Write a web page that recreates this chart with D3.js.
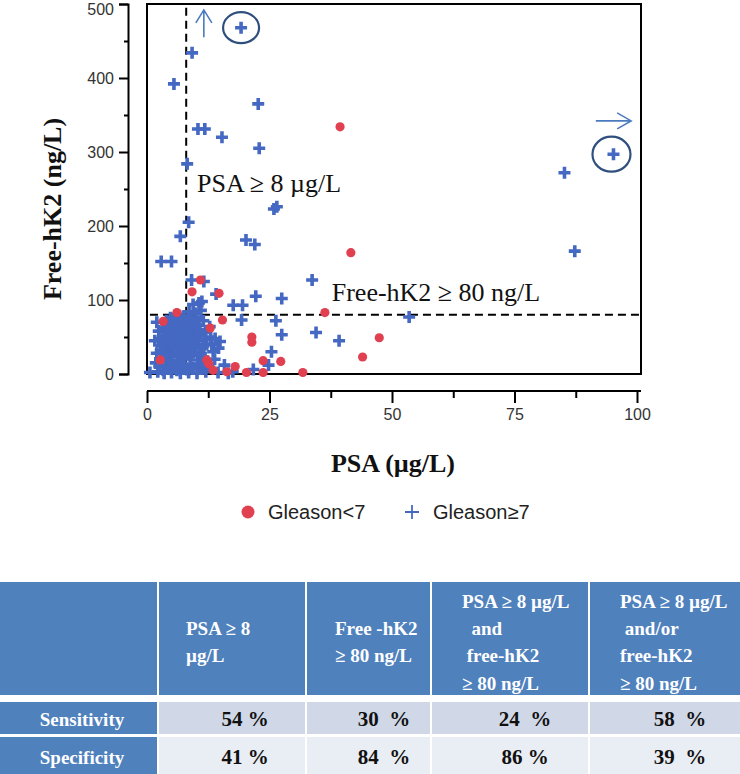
<!DOCTYPE html>
<html><head><meta charset="utf-8">
<script src="https://cdn.jsdelivr.net/npm/d3@7"></script>
<style>body{margin:0;background:#fff} svg{display:block}</style>
</head><body><svg id="c" width="740" height="774"></svg>
<script>
// ---------- data ----------
const xTicks = [0, 25, 50, 75, 100];
const xMinor = [12.5, 37.5, 62.5, 87.5];
const yTicks = [0, 100, 200, 300, 400, 500];
const yMinor = [50, 150, 250, 350, 450];
const psaCut = 8, hk2Cut = 80;

// [PSA, free-hK2]  Gleason < 7
const lowGleason = [
  [39.4,334],[41.6,164],[10.9,127],[9.2,111],[14.7,109],[36.3,83],[6.1,83],[15.4,73],
  [21.4,50],[21.4,43],[47.4,49],[44,23],[23.7,18],[27.3,17],[18,10],[31.8,2],[20.3,2],
  [23.7,2],[12.9,62],[12.2,19],[12.6,14],[2.7,19],[3.3,71],[13.5,5],[16.3,3]
];
// [PSA, free-hK2]  Gleason >= 7
const highGleason = [
  [19.2,468],[9.2,434],[5.5,392],[22.7,365],[10.4,331],[11.8,331],[15.3,320],[22.9,305],
  [8.2,284],[95.2,297],[85.2,272],[87.3,166],[53.5,77],[25.9,223],[26.5,226],[8.5,205],
  [6.8,186],[20.2,181],[22,175],[2.9,152],[5.0,152],[9.1,127],[11.6,125],[33.7,127],
  [14.1,108],[22.2,105],[27.5,102],[17.6,93],[19.5,93],[10.6,96],[9.4,94],[11.2,98],
  [19.3,73],[26.3,72],[34.5,56],[39.2,45],[27.5,53],[25.4,30],[24.8,12],[21.7,6],
  [0.6,2],[2.2,3],[3.5,1],[5.0,2],[6.8,1],[8.5,2],[10.2,1],[12.0,3],[14.5,2],[16.6,1],
  [2.5,10],[3.8,12],[4.6,8],[5.9,11],[7.2,9],[8.8,13],[10.5,10],[11.8,7],
  [3.0,22],[4.2,20],[5.3,24],[6.5,18],[7.7,21],[9.0,25],[10.3,19],[11.5,23],
  [2.8,32],[4.0,30],[5.2,34],[6.4,29],[7.6,33],[8.7,31],[9.9,35],[11.0,28],[13.5,30],
  [3.2,42],[4.4,40],[5.6,44],[6.8,38],[8.0,43],[9.2,41],[10.4,45],[12.2,40],[14.9,44],
  [3.6,52],[4.8,50],[6.0,54],[7.2,48],[8.4,53],[9.6,50],[11.0,52],[13.0,50],
  [3.4,62],[4.6,60],[5.8,64],[7.0,58],[8.2,63],[9.4,60],[10.6,66],[12.0,56],
  [4.0,72],[5.4,70],[6.6,74],[7.8,69],[9.0,73],[10.2,76],[11.5,72],
  [6.0,80],[7.4,78],[8.6,84],[9.8,82],[11.0,86],[14.6,35],[13.8,20],[15.8,12],[17.5,3],
  [1.8,15],[2.0,28],[1.6,45],[2.4,58],[2.0,70],[3.3,5],[4.9,15],[6.1,5],[7.0,14],[8.1,6],
  [9.5,8],[3.9,26],[5.0,28],[6.1,24],[7.1,27],[8.3,26],[9.5,29],[10.8,34],[3.8,36],[5.0,39],
  [6.2,35],[7.4,37],[8.6,37],[9.8,40],[11.5,38],[4.0,46],[5.2,47],[6.4,45],[7.6,45],[8.8,47],
  [10.0,48],[11.8,47],[4.2,56],[5.4,57],[6.6,57],[7.8,56],[9.0,56],[10.2,58],[4.0,66],[5.2,67],
  [6.4,68],[7.6,64],[8.8,67],[4.8,76],[7.0,72],[8.4,76],[9.6,70],[10.8,60],[12.8,64],[13.2,40],
  [12.5,10],[2.6,48],[3.0,38],[11.2,16],[13.9,48]
];
const circled = [[19.2,468],[95.2,297]];

const legendLabels = ["Gleason<7", "Gleason\u22657"];
const tableHeader = [
  [],
  ["PSA \u2265 8", "\u00b5g/L"],
  ["Free -hK2", "\u2265 80 ng/L"],
  ["PSA \u2265 8 \u00b5g/L", "  and", " free-hK2", "\u2265 80 ng/L"],
  ["PSA \u2265 8 \u00b5g/L", " and/or", "free-hK2", "\u2265 80 ng/L"]
];
const rowLabels = ["Sensitivity", "Specificity"];
const sensitivity = ["54 %", "30  %", "24  %", "58  %"];
const specificity = ["41 %", "84  %", "86 %", "39  %"];

// ---------- layout ----------
const svg = d3.select("#c");
const x = d3.scaleLinear().domain([0,100]).range([147,637]);
const y = d3.scaleLinear().domain([0,500]).range([374,4]);
const boxR = 641;

const defs = svg.append("defs");
defs.append("filter").attr("id","soft").append("feGaussianBlur").attr("stdDeviation",0.45);

// y axis (offset)
const yAx = svg.append("g").attr("transform","translate(128,0)")
  .call(d3.axisLeft(y).tickValues(yTicks).tickSize(9).tickPadding(5).tickFormat(d3.format("d")));
yAx.selectAll(".tick text").filter(d=>d===500).attr("dy","0.65em");
svg.append("g").attr("transform","translate(128,0)")
  .call(d3.axisLeft(y).tickValues(yMinor).tickSize(4).tickFormat(""))
  .call(g=>g.select(".domain").remove());
// x axis (offset)
const xAx = svg.append("g").attr("transform","translate(0,391)")
  .call(d3.axisBottom(x).tickValues(xTicks).tickSize(12).tickPadding(6).tickFormat(d3.format("d")));
svg.append("g").attr("transform","translate(0,391)")
  .call(d3.axisBottom(x).tickValues(xMinor).tickSize(7).tickFormat(""))
  .call(g=>g.select(".domain").remove());
xAx.select(".domain").attr("d", `M${x(0)},0H${boxR}`);
svg.selectAll(".domain, .tick line").attr("stroke","#000").attr("stroke-width",2);
svg.selectAll(".tick text").attr("font-family","Arial, 'Liberation Sans', sans-serif")
  .attr("font-size",16).attr("fill","#333");

// plot box
svg.append("rect").attr("x",x(0)).attr("y",y(500)).attr("width",boxR-x(0)).attr("height",y(0)-y(500))
  .attr("fill","none").attr("stroke","#000").attr("stroke-width",2);

// cut-off lines
svg.append("line").attr("x1",x(psaCut)).attr("x2",x(psaCut)).attr("y1",y(495)).attr("y2",y(0))
  .attr("stroke","#000").attr("stroke-width",2).attr("stroke-dasharray","8,5");
svg.append("line").attr("x1",x(0.6)).attr("x2",boxR).attr("y1",y(hk2Cut)).attr("y2",y(hk2Cut))
  .attr("stroke","#000").attr("stroke-width",2).attr("stroke-dasharray","8,5");

// annotation texts
svg.append("text").attr("x",x(10.2)).attr("y",192).text("PSA \u2265 8 \u00b5g/L")
  .attr("font-family","'Times New Roman','Liberation Serif',serif").attr("font-size",26).attr("fill","#111");
svg.append("text").attr("x",x(37.7)).attr("y",301).text("Free-hK2 \u2265 80 ng/L")
  .attr("font-family","'Times New Roman','Liberation Serif',serif").attr("font-size",26).attr("fill","#111");

// markers
const blue = "#4468c2", red = "#e0404f";
const mk = svg.append("g").attr("filter","url(#soft)");
mk.selectAll("path.hi").data(highGleason).join("path").attr("class","hi")
  .attr("d", d=>`M${x(d[0])-6},${y(d[1])}h12M${x(d[0])},${y(d[1])-6}v12`)
  .attr("stroke",blue).attr("stroke-width",3.6).attr("fill","none");
mk.selectAll("circle.lo").data(lowGleason).join("circle").attr("class","lo")
  .attr("cx",d=>x(d[0])).attr("cy",d=>y(d[1])).attr("r",4.6).attr("fill",red);

// circled outliers and arrows
const navy = "#2f4f7e", arrowC = "#4a7bbf";
svg.selectAll("ellipse.ring").data(circled).join("ellipse").attr("class","ring")
  .attr("cx",(d,i)=>x(d[0]) - (i?2:0)).attr("cy",d=>y(d[1]))
  .attr("rx",(d,i)=>i?19:18).attr("ry",(d,i)=>i?17.5:15.5)
  .attr("fill","none").attr("stroke",navy).attr("stroke-width",2.2);
// up arrow
const ax = x(11.6), ay0 = y(455), ay1 = y(492);
svg.append("path").attr("d",`M${ax},${ay0}V${ay1}M${ax-8},${ay1+13}L${ax},${ay1}L${ax+8},${ay1+13}`)
  .attr("stroke",arrowC).attr("stroke-width",1.6).attr("fill","none");
// right arrow
const rx0 = x(91.6), rx1 = x(98.8), ry = y(342);
svg.append("path").attr("d",`M${rx0},${ry}H${rx1}M${rx1-14},${ry-8}L${rx1},${ry}L${rx1-14},${ry+8}`)
  .attr("stroke",arrowC).attr("stroke-width",1.6).attr("fill","none");

// axis titles
svg.append("text").attr("x",393).attr("y",472).attr("text-anchor","middle").text("PSA (\u00b5g/L)")
  .attr("font-family","'Times New Roman','Liberation Serif',serif").attr("font-weight","bold").attr("font-size",26).attr("fill","#111");
svg.append("text").attr("transform","translate(61,209) rotate(-90)").attr("text-anchor","middle").text("Free-hK2 (ng/L)")
  .attr("font-family","'Times New Roman','Liberation Serif',serif").attr("font-weight","bold").attr("font-size",26).attr("fill","#111");

// legend
const lg = svg.append("g").attr("font-family","Arial, 'Liberation Sans', sans-serif").attr("font-size",20).attr("fill","#222");
lg.append("circle").attr("cx",248).attr("cy",512).attr("r",6.5).attr("fill",red);
lg.append("text").attr("x",268).attr("y",519).text(legendLabels[0]);
lg.append("path").attr("d","M405,512h14M412,505v14").attr("stroke",blue).attr("stroke-width",1.8);
lg.append("text").attr("x",433).attr("y",519).text(legendLabels[1]);

// ---------- table ----------
const colX = [[0,157],[159,305],[307,430],[432,588],[590,740]];
const rowsY = [[582,695],[702,734],[737,774]];
const hdrBlue = "#4f81bd";
const rowFill = ["#d0d8e8","#e9edf4"];
const tb = svg.append("g");
rowsY.forEach((ry,ri)=>{
  colX.forEach((cx,ci)=>{
    tb.append("rect").attr("x",cx[0]).attr("y",ry[0]).attr("width",cx[1]-cx[0]).attr("height",ry[1]-ry[0])
      .attr("fill", (ri===0||ci===0)? hdrBlue : rowFill[ri-1]);
  });
});
const serif = "'Times New Roman','Liberation Serif',serif";
const hdrX = [0,186,335,462,620];
const lineY4 = [608,635,662,690];
tableHeader.forEach((lines,ci)=>{
  const ys = lines.length===2 ? [635,662] : lineY4;
  lines.forEach((t,li)=>{
    tb.append("text").attr("x",hdrX[ci]).attr("y",ys[li]).text(t)
      .style("white-space","pre")
      .attr("font-family",serif).attr("font-weight","bold").attr("font-size",19).attr("fill","#fff");
  });
});
rowLabels.forEach((t,ri)=>{
  tb.append("text").attr("x",82).attr("y",[726,764][ri]).attr("text-anchor","middle").text(t)
    .attr("font-family",serif).attr("font-weight","bold").attr("font-size",19).attr("fill","#fff");
});
const valX = [245,384,525,680];
[sensitivity, specificity].forEach((vals,ri)=>{
  vals.forEach((t,ci)=>{
    tb.append("text").attr("x",valX[ci]).attr("y",[726,764][ri]).attr("text-anchor","middle").text(t)
      .style("white-space","pre")
      .attr("font-family",serif).attr("font-weight","bold").attr("font-size",21).attr("fill","#111");
  });
});
</script></body></html>
